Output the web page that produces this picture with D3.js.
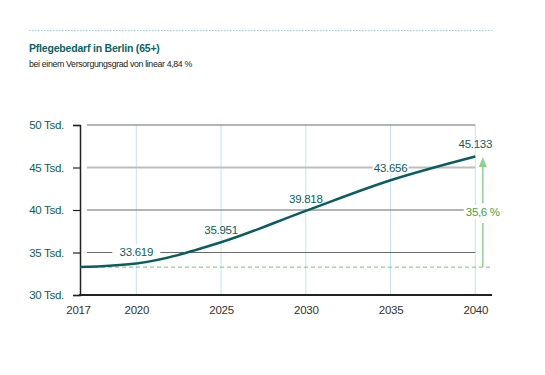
<!DOCTYPE html>
<html>
  <head>
    <style>
      body { margin: 0; background: #fff; }
      text { font-family: "Liberation Sans", Arial, sans-serif; letter-spacing: -0.3px; }
    </style>
    <script src="https://d3js.org/d3.v7.min.js"></script>
  </head>
  <body>
    <svg id="chart" width="545" height="375"></svg>
    <script>
      // data
      var years = [2017, 2020, 2025, 2030, 2035, 2040];
      var values = [33.28, 33.7, 36.2, 39.9, 43.5, 46.3]; // Tsd., as drawn
      var labels = ['', '33.619', '35.951', '39.818', '43.656', '45.133'];
      var yTicks = [30, 35, 40, 45, 50];
      var growth = '35,6 %';

      var svg = d3.select('#chart');
      var teal = '#0b5e5e';
      var green = '#8fd18f';
      var fs = 11.5;

      var x = d3.scaleLinear().domain([2017, 2020, 2040]).range([80, 136.3, 475.3]);
      var y = d3.scaleLinear().domain([30, 50]).range([295, 125]);

      // top dotted rule
      svg.append('line')
        .attr('x1', 29).attr('x2', 494).attr('y1', 30.5).attr('y2', 30.5)
        .attr('stroke', '#9fcfd0').attr('stroke-dasharray', '1.5,1.5');

      svg.append('text').attr('x', 29).attr('y', 52)
        .attr('fill', '#0a6464').attr('font-weight', 'bold').attr('font-size', 10.5)
        .style('letter-spacing', '-0.2px')
        .text('Pflegebedarf in Berlin (65+)');
      svg.append('text').attr('x', 29).attr('y', 67)
        .attr('fill', '#222').attr('font-size', 8.8)
        .style('letter-spacing', '-0.35px')
        .text('bei einem Versorgungsgrad von linear 4,84 %');

      // vertical light grid
      svg.append('g').selectAll('line')
        .data(years.slice(1)).join('line')
        .attr('x1', (d) => x(d)).attr('x2', (d) => x(d))
        .attr('y1', y(50)).attr('y2', y(30))
        .attr('stroke', '#c2e6ec').attr('stroke-width', 1);

      // horizontal grid
      svg.append('g').selectAll('line')
        .data(yTicks.slice(1)).join('line')
        .attr('x1', 87).attr('x2', x(2040))
        .attr('y1', (d) => y(d)).attr('y2', (d) => y(d))
        .attr('stroke', (d) => (d == 45 ? '#bdbdbd' : '#6a6a6a'))
        .attr('stroke-width', (d) => (d == 45 ? 2 : 1));

      // y axis
      var yAxis = svg.append('g')
        .attr('transform', 'translate(80,0)')
        .call(d3.axisLeft(y).tickValues(yTicks).tickSize(7).tickPadding(9)
          .tickFormat((d) => d + ' Tsd.'));
      yAxis.select('.domain').attr('stroke', '#222').attr('stroke-width', 1.5);
      yAxis.selectAll('.tick line').attr('stroke', '#222').attr('stroke-width', 1.2);
      yAxis.selectAll('.tick text')
        .attr('fill', teal).attr('font-size', fs)
        .style('font-family', '"Liberation Sans", sans-serif');

      // baseline 2017 dashed
      svg.append('line')
        .attr('x1', 80).attr('x2', 492)
        .attr('y1', y(values[0])).attr('y2', y(values[0]))
        .attr('stroke', '#6fc46f').attr('stroke-width', 1)
        .attr('stroke-dasharray', '4,3');

      // x axis
      var xAxis = svg.append('g')
        .attr('transform', 'translate(0,295)')
        .call(d3.axisBottom(x).tickValues(years).tickSize(0).tickPadding(11)
          .tickFormat(d3.format('d')));
      xAxis.select('.domain').remove();
      xAxis.append('line')
        .attr('x1', 79).attr('x2', 492).attr('y1', 0).attr('y2', 0)
        .attr('stroke', '#222').attr('stroke-width', 2);
      xAxis.selectAll('.tick text')
        .attr('fill', '#333').attr('font-size', fs)
        .style('font-family', '"Liberation Sans", sans-serif');
      xAxis.selectAll('.tick').filter((d) => d == 2017)
        .select('text').attr('dx', -2);

      // growth arrow
      var ax = x(2040) + 7.5;
      var arrow = svg.append('g');
      arrow.append('line')
        .attr('x1', ax).attr('x2', ax)
        .attr('y1', y(values[0])).attr('y2', 223)
        .attr('stroke', green).attr('stroke-width', 1.5);
      arrow.append('line')
        .attr('x1', ax).attr('x2', ax)
        .attr('y1', 203).attr('y2', 166)
        .attr('stroke', green).attr('stroke-width', 1.5);
      arrow.append('path')
        .attr('d', `M${ax - 4},${167} L${ax},${157} L${ax + 4},${167} Z`)
        .attr('fill', green);
      arrow.append('rect')
        .attr('x', ax - 19).attr('y', 205).attr('width', 39).attr('height', 14)
        .attr('fill', '#fff');
      arrow.append('text')
        .attr('x', ax).attr('y', 216).attr('text-anchor', 'middle')
        .attr('fill', '#3ea33e').attr('font-size', fs)
        .text(growth);

      // data labels with white background
      var pts = years.map((d, i) => ({ year: d, value: values[i], label: labels[i] }));
      var lab = svg.append('g').selectAll('g')
        .data(pts.filter((d) => d.label)).join('g')
        .attr('transform', (d) => `translate(${x(d.year)},${y(d.value) - 8})`);
      lab.append('rect')
        .attr('x', (d) => (d.year == 2020 ? -24 : -18))
        .attr('y', -11)
        .attr('width', (d) => (d.year == 2020 ? 48 : 36))
        .attr('height', 13)
        .attr('fill', (d) => (d.year == 2020 || d.year == 2035 ? '#fff' : 'none'));
      lab.append('text')
        .attr('text-anchor', 'middle')
        .attr('fill', teal).attr('font-size', fs)
        .text((d) => d.label);

      // main line
      svg.append('path')
        .datum(pts)
        .attr('fill', 'none')
        .attr('stroke', teal)
        .attr('stroke-width', 2.5)
        .attr('d', d3.line().x((d) => x(d.year)).y((d) => y(d.value)).curve(d3.curveMonotoneX));
    </script>
  </body>
</html>
